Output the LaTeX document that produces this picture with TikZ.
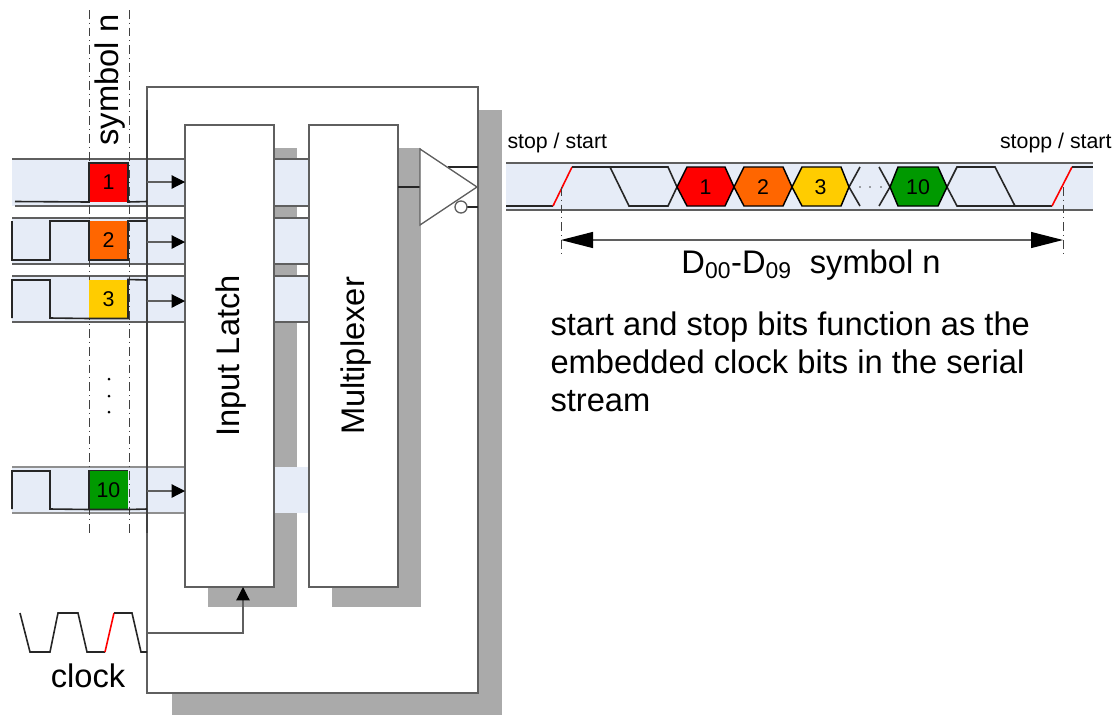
\documentclass[tikz,border=0pt]{standalone}
\usepackage{fontspec}
\setmainfont{Liberation Sans}
\usetikzlibrary{arrows.meta}
\definecolor{bandblue}{RGB}{230,236,247}
\definecolor{shadowgrey}{RGB}{170,170,170}
\definecolor{boxgrey}{RGB}{95,95,95}
\definecolor{symred}{RGB}{255,0,0}
\definecolor{symorange}{RGB}{255,102,0}
\definecolor{symyellow}{RGB}{255,204,0}
\definecolor{symgreen}{RGB}{0,153,0}
\tikzset{every picture/.style={line width=0.75pt},
  blockbox/.style={draw=boxgrey,fill=white,line width=1pt,minimum width=66.75pt,minimum height=346.5pt,inner sep=0pt,outer sep=0pt},
  cellbox/.style={minimum width=29.25pt,minimum height=29.25pt,inner sep=0pt,outer sep=0pt,font=\fontsize{16}{18}\selectfont},
  hexbox/.style={draw=black,line width=1.1pt},
  hexlabel/.style={inner sep=0pt,font=\fontsize{16}{18}\selectfont},
  bandline/.style={draw=boxgrey,line width=1pt},
  sigline/.style={draw=black!85,line width=1.2pt},
  redline/.style={draw=red,line width=1.2pt},
  dashdotline/.style={draw=black!75,line width=0.7pt,dash pattern={on 6.5pt off 3pt on 0.8pt off 3pt}},
  inarrow/.style={draw=boxgrey,line width=0.9pt,-{Triangle[length=10pt,width=10pt,fill=black,color=black]}},
  spanarrow/.style={draw=boxgrey,line width=0.9pt,{Triangle[length=24pt,width=12pt,fill=black,color=black]}-{Triangle[length=24pt,width=12pt,fill=black,color=black]}},
  bigtext/.style={inner sep=0pt,font=\fontsize{24.5}{28.5}\selectfont},
  smalltext/.style={inner sep=0pt,font=\fontsize{16}{19}\selectfont}}

\begin{document}
\begin{tikzpicture}[x=0.75pt,y=0.75pt,yscale=-1,xscale=1]
\useasboundingbox (0,0) rectangle (1120,715);

%Shape: Shadows
\fill [shadowgrey] (172,110) rectangle (502,715);
%Shape: Main box
\draw [draw=boxgrey,fill=white,line width=1pt] (147,87) rectangle (478,693);
\fill [shadowgrey] (208,148) rectangle (297,607);
\fill [shadowgrey] (332,148) rectangle (421,607);

%Shape: Input bands
\fill [bandblue] (12,159) rectangle (309,206);
\fill [bandblue] (12,218) rectangle (309,264);
\fill [bandblue] (12,276) rectangle (309,322);
\fill [bandblue] (12,467) rectangle (309,513);
\draw [bandline] (12,159) -- (309,159) (15,206) -- (309,206);
\draw [bandline] (12,218) -- (309,218) (12,264) -- (309,264);
\draw [bandline] (12,276) -- (309,276) (12,322) -- (309,322);
\draw [bandline,draw=boxgrey!70] (12,467) -- (185,467) (12,513) -- (185,513);
%Straight Lines: main box left edge
\draw [draw=black!75,line width=1.2pt] (147,110) -- (147,533);

%Shape: Latch and multiplexer
\node (latch) [blockbox] at (229.5,356) {};
\node (mux) [blockbox] at (353.5,356) {};
\node (latchlabel) [bigtext,rotate=90] at (231,356) {Input Latch};
\node (muxlabel) [bigtext,rotate=90] at (356,356) {Multiplexer};

%Straight Lines: symbol limits
\coordinate (limitAtop) at (89,10);
\coordinate (limitAbot) at (89,533);
\coordinate (limitBtop) at (129,10);
\coordinate (limitBbot) at (129,533);
\draw [dashdotline] (limitAtop) -- (limitAbot);
\draw [dashdotline] (limitBtop) -- (limitBbot);

%Shape: Symbol cells
\node (cell1) [cellbox,fill=symred] at (108.5,182.5) {1};
\node (cell2) [cellbox,fill=symorange] at (108.5,240.5) {2};
\node (cell3) [cellbox,fill=symyellow] at (108.5,299) {3};
\node (cell10) [cellbox,fill=symgreen] at (108.5,490) {10};

%Straight Lines: input signals
\draw [sigline] (15,201.5) -- (cell1.south west) -- (cell1.north west) -- (cell1.north east) -- (cell1.south east) -- (147,201.5);
\draw [sigline] (12,221) -- (12,260) -- (50,260) -- (50,221) -- (cell2.north west) -- (cell2.south west) -- (cell2.south east) -- (cell2.north east) -- (147,221);
\draw [sigline] (12,318) -- (12,280) -- (50,280) -- (50,318) -- (cell3.south west) -- (cell3.south east) -- (cell3.north east) -- (147,280);
\draw [sigline] (12,509) -- (12,471) -- (50,471) -- (50,509) -- (cell10.south west) -- (cell10.south east) -- (147,509);
\draw [sigline] (cell10.south west) -- (cell10.north west) -- (cell10.north east);

%Straight Lines: arrows into latch
\coordinate (in1) at (147,182);
\coordinate (in2) at (147,242);
\coordinate (in3) at (147,301);
\coordinate (in10) at (147,491);
\draw [inarrow] (in1) -- (in1 -| latch.west);
\draw [inarrow] (in2) -- (in2 -| latch.west);
\draw [inarrow] (in3) -- (in3 -| latch.west);
\draw [inarrow] (in10) -- (in10 -| latch.west);

%Dots
\fill [black] (109,379) circle (1.5) (109,396) circle (1.5) (109,412) circle (1.5);

%Curve Lines: clock
\draw [sigline] (20,613) -- (30,652) -- (50,652) -- (58,613) -- (78,613) -- (87,652) -- (105,652);
\draw [redline] (105,652) -- (114,613);
\draw [sigline] (114,613) -- (132,613) -- (141,652) -- (147,652);
\coordinate (clockin) at (147,633);
\coordinate (latchclock) at (243,587);
\draw [inarrow] (clockin) -| (latchclock);

%Shape: Output driver
\coordinate (muxout) at (mux.east |- 0,187);
\coordinate (driverin) at (420,187);
\draw [sigline] (muxout) -- (driverin);
\coordinate (outtop) at (448,167);
\coordinate (outtopend) at (478,167);
\coordinate (outbot) at (467,207);
\coordinate (outbotend) at (478,207);
\draw [sigline] (outtop) -- (outtopend);
\draw [sigline] (outbot) -- (outbotend);
\draw [draw=boxgrey,fill=white,line width=1pt] (420,149) -- (477,187) -- (420,225) -- cycle;
\draw [draw=boxgrey,fill=white,line width=1pt] (461,207) circle (6);

%Shape: Serial band
\fill [bandblue] (506,163) rectangle (1093,210);
\draw [bandline] (506,163) -- (1093,163) (506,210) -- (1093,210);

%Straight Lines: serial signal
\draw [sigline] (506,206) -- (553,206);
\draw [redline] (553,206) -- (572,167);
\draw [sigline] (572,167) -- (610,167) -- (629,206) -- (668,206) -- (677,187) -- (668,167) -- (610,167);
\draw [sigline] (849,187) -- (860,167) (849,187) -- (860,206);
\draw [sigline] (879,167) -- (890,187) -- (879,206);
\draw [sigline] (947,187) -- (957,167) -- (995,167) -- (1015,206) -- (957,206) -- cycle;
\draw [sigline] (1015,206) -- (1052,206);
\draw [redline] (1052,206) -- (1072,167);
\draw [sigline] (1072,167) -- (1093,167);

%Shape: Hexagons
\draw [hexbox,fill=symred] (677,187) -- (687,167) -- (725,167) -- (734,187) -- (725,206) -- (687,206) -- cycle;
\draw [hexbox,fill=symorange] (734,187) -- (744,167) -- (783,167) -- (792,187) -- (783,206) -- (744,206) -- cycle;
\draw [hexbox,fill=symyellow] (792,187) -- (802,167) -- (841,167) -- (849,187) -- (841,206) -- (802,206) -- cycle;
\draw [hexbox,fill=symgreen] (890,187) -- (898,167) -- (938,167) -- (947,187) -- (938,206) -- (898,206) -- cycle;
\node (hex1) [hexlabel] at (705.5,187) {1};
\node (hex2) [hexlabel] at (763,187) {2};
\node (hex3) [hexlabel] at (820.5,187) {3};
\node (hex10) [hexlabel] at (918,187) {10};
\fill [black!70] (860,187) circle (0.9) (870,187) circle (0.9) (881,187) circle (0.9);

%Straight Lines: span of symbol
\coordinate (spanAtop) at (561,187);
\coordinate (spanAbot) at (561,257);
\coordinate (spanBtop) at (1063,187);
\coordinate (spanBbot) at (1063,257);
\draw [dashdotline] (spanAtop) -- (spanAbot);
\draw [dashdotline] (spanBtop) -- (spanBbot);
\coordinate (spanA) at (561,240);
\coordinate (spanB) at (1063,240);
\draw [spanarrow] (spanA) -- (spanB);

% Text Node
\node (symboltext) [bigtext,rotate=90] at (110,80) {symbol n};
% Text Node
\node (clocktext) [bigtext] at (88,676) {clock};
% Text Node
\node (stoptext) [smalltext,anchor=west] at (507,143) {stop / start};
% Text Node
\node (stopptext) [smalltext,anchor=east] at (1112,143) {stopp / start};
% Text Node
\node (spantext) [bigtext] at (811,265) {D\textsubscript{00}-D\textsubscript{09}\ \ symbol n};
% Text Node
\node (notetext) [bigtext,anchor=north west,align=left] at (550,311) {start and stop bits function as the\\embedded clock bits in the serial\\stream};
\end{tikzpicture}
\end{document}
